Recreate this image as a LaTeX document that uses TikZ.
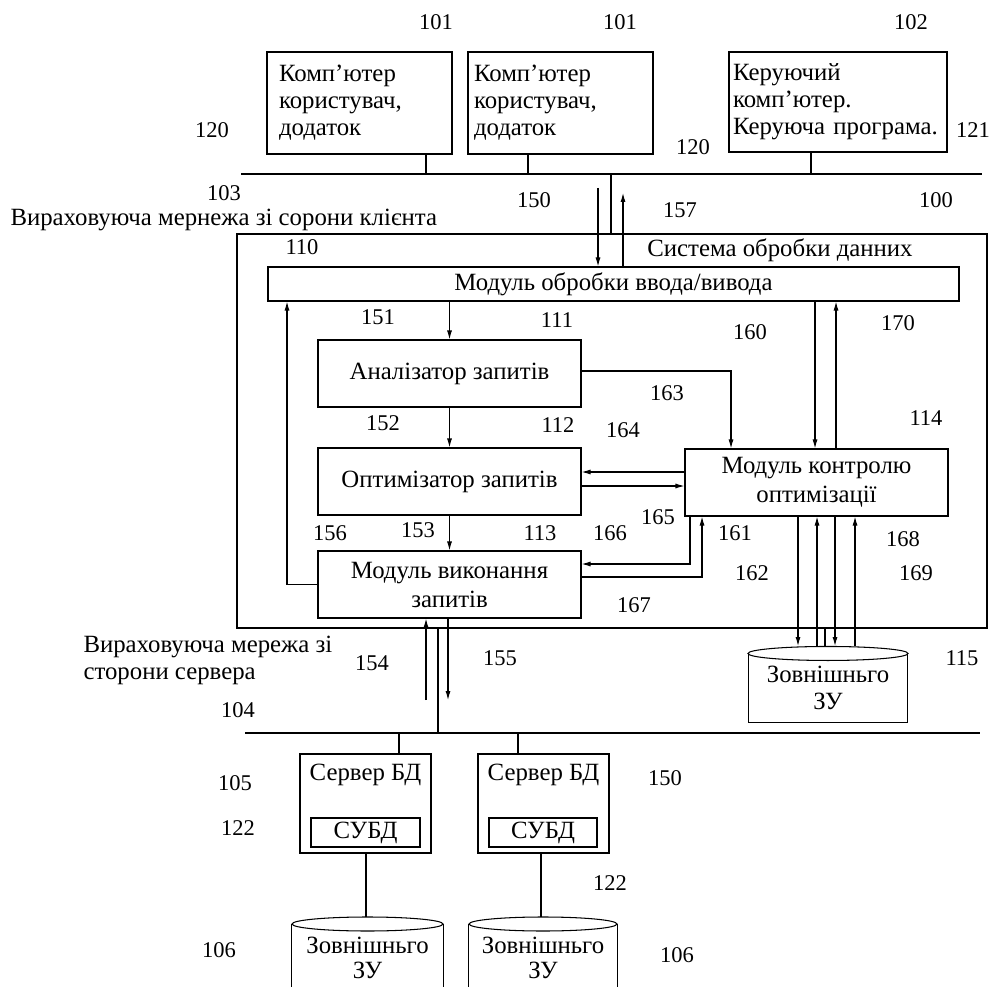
\documentclass[tikz,border=0pt]{standalone}
\usepackage{fontspec}
\setmainfont{Liberation Serif}
\usetikzlibrary{arrows.meta,calc}
\begin{document}
\begin{tikzpicture}[x=1pt,y=-1pt, line width=1.05pt,
  every node/.style={font=\fontsize{24.8}{27}\selectfont},
  box/.style={draw, rectangle, inner sep=0pt},
  lbl/.style={inner sep=0pt},
  num/.style={inner sep=0pt, font=\fontsize{22.5}{26}\selectfont},
  arr/.style={-{Latex[length=9pt,width=5pt]}}]
\useasboundingbox (0,0) rectangle (994,987);
\clip (0,0) rectangle (994,987);

% ---------- top client computers ----------
\node[box, minimum height=102pt, text width=161pt, inner xsep=12pt, align=left] (u1) at (359.5,103) {Комп’ютер\\користувач,\\додаток};
\node[box, minimum height=102pt, text width=173pt, inner xsep=6pt, align=left] (u2) at (560.5,103) {Комп’ютер\\користувач,\\додаток};
\node[box, minimum height=100pt, text width=210pt, inner xsep=4pt, align=left] (u3) at (838,102) {Керуючий\\комп’ютер.\\Керуюча програма.};

\coordinate (cbusL) at (241,174);
\coordinate (cbusR) at (982,174);
\draw (cbusL) -- (cbusR);
\coordinate (t1) at (426,174);
\coordinate (t2) at (528,174);
\coordinate (t3) at (811,174);
\draw (u1.south -| t1) -- (t1);
\draw (u2.south -| t2) -- (t2);
\draw (u3.south -| t3) -- (t3);

% labels top
\node[num] (n101a) at (436,22) {101};
\node[num] (n101b) at (620,22) {101};
\node[num] (n102) at (911,22) {102};
\node[num] (n120a) at (212,130) {120};
\node[num] (n120b) at (693,147) {120};
\node[num] (n121) at (973,130) {121};
\node[num] (n103) at (224,193) {103};
\node[lbl, anchor=west] (ctext) at (10,220) {Вираховуюча мернежа зі сорони клієнта};
\node[num] (n150a) at (534,200) {150};
\node[num] (n157) at (680,210) {157};
\node[num] (n100) at (936,200) {100};

% ---------- data processing system ----------
\node[box, minimum width=750pt, minimum height=394pt] (outer) at (612,431) {};
\node[lbl] (sys) at (780,250) {Система обробки данних};
\node[num] (n110) at (302,247) {110};

\node[box, minimum width=691pt, minimum height=34pt] (io) at (613.5,284) {Модуль обробки ввода/вивода};

\coordinate (tb) at (611,174);
\draw (tb) -- (tb |- outer.north);
\coordinate (a150) at (598,188);
\draw[arr] (a150) -- (a150 |- io.north);
\coordinate (a157) at (623,193);
\draw[arr] (a157 |- io.north) -- (a157);

\node[box, minimum width=263pt, minimum height=67pt] (an) at (449.5,373.5) {Аналізатор запитів};
\node[box, minimum width=263pt, minimum height=67pt] (op) at (449.5,481.5) {Оптимізатор запитів};
\node[box, minimum width=263pt, minimum height=67pt, align=center] (ex) at (449.5,584.5) {Модуль виконання\\[2pt]запитів};
\node[box, minimum width=263pt, minimum height=67pt, align=center] (kc) at (816.5,482.5) {Модуль контролю\\[2pt]оптимізації};

\draw[arr] (io.south -| an.north) -- (an.north);
\draw[arr] (an.south) -- (op.north);
\draw[arr] (op.south) -- (ex.north);

\coordinate (fb) at (287,584.5);
\draw[arr] (ex.west |- fb) -- (fb) -- (fb |- io.south);

\coordinate (c163) at (731,371);
\draw[arr] (an.east |- c163) -- (c163) -- (c163 |- kc.north);
\coordinate (c160) at (815,0);
\draw[arr] (io.south -| c160) -- (kc.north -| c160);
\coordinate (c170) at (836,0);
\draw[arr] (kc.north -| c170) -- (io.south -| c170);

\coordinate (c164) at (0,472);
\draw[arr] (kc.west |- c164) -- (op.east |- c164);
\coordinate (c165) at (0,486);
\draw[arr] (op.east |- c165) -- (kc.west |- c165);

\coordinate (c166) at (690,564);
\draw[arr] (kc.south -| c166) -- (c166) -- (ex.east |- c166);
\coordinate (c167) at (702,577);
\draw[arr] (ex.east |- c167) -- (c167) -- (c167 |- kc.south);

% labels inside
\node[num] (n151) at (378,317) {151};
\node[num] (n111) at (557,320) {111};
\node[num] (n160) at (750,332) {160};
\node[num] (n170) at (898,323) {170};
\node[num] (n163) at (667,393) {163};
\node[num] (n152) at (383,423) {152};
\node[num] (n112) at (558,425) {112};
\node[num] (n164) at (623,430) {164};
\node[num] (n114) at (926,418) {114};
\node[num] (n165) at (658,517) {165};
\node[num] (n166) at (610,533) {166};
\node[num] (n156) at (330,533) {156};
\node[num] (n153) at (418,530) {153};
\node[num] (n113) at (540,533) {113};
\node[num] (n161) at (735,533) {161};
\node[num] (n168) at (903,539) {168};
\node[num] (n162) at (752,573) {162};
\node[num] (n169) at (916,573) {169};
\node[num] (n167) at (634,605) {167};

% ---------- external storage 115 ----------
\node[lbl, minimum width=158pt, minimum height=68pt, align=center] (zu) at (828,688) {Зовнішньго\\ЗУ};
\draw (zu.north west) -- (zu.south west) -- (zu.south east) -- (zu.north east);
\draw[fill=white] (zu.north) ellipse [x radius=80pt, y radius=7pt];
\coordinate (zutop) at (828,646);
\coordinate (k1) at (798,0);
\coordinate (k2) at (817,0);
\coordinate (k3) at (835,0);
\coordinate (k4) at (855,0);
\coordinate (k5) at (825,0);
\draw[arr] (kc.south -| k1) -- (zutop -| k1);
\draw[arr] (zutop -| k2) -- (kc.south -| k2);
\draw[arr] (kc.south -| k3) -- (zutop -| k3);
\draw[arr] (zutop -| k4) -- (kc.south -| k4);
\draw (outer.south -| k5) -- (zutop -| k5);
\node[num] (n115) at (962,658) {115};

% ---------- server side ----------
\coordinate (sbusL) at (245,733);
\coordinate (sbusR) at (980,733);
\draw (sbusL) -- (sbusR);
\coordinate (b154) at (426,700);
\coordinate (b155) at (448,700);
\coordinate (bl) at (438,733);
\draw[arr] (b154) -- (b154 |- ex.south);
\draw[arr] (b155 |- ex.south) -- (b155);
\draw (bl |- outer.south) -- (bl);

\node[lbl, anchor=west, align=left] (stext) at (83,660) {Вираховуюча мережа зі\\сторони сервера};
\node[num] (n104) at (238,710) {104};
\node[num] (n154) at (372,663) {154};
\node[num] (n155) at (500,658) {155};

\node[box, minimum width=131pt, minimum height=99pt] (s1) at (365.5,803.5) {};
\node[lbl] (s1t) at (365.5,775) {Сервер БД};
\node[box, minimum width=109pt, minimum height=29pt] (d1) at (365.5,832.5) {СУБД};
\node[box, minimum width=131pt, minimum height=99pt] (s2) at (543.5,803.5) {};
\node[lbl] (s2t) at (543.5,775) {Сервер БД};
\node[box, minimum width=108pt, minimum height=29pt] (d2) at (543,832.5) {СУБД};

\coordinate (sc1) at (399,733);
\coordinate (sc2) at (518,733);
\draw (sc1) -- (sc1 |- s1.north);
\draw (sc2) -- (sc2 |- s2.north);

\node[lbl, minimum width=151pt, minimum height=82pt, align=center] (cy1) at (367.5,958) {Зовнішньго\\[-2pt]ЗУ};
\node[lbl, minimum width=148pt, minimum height=82pt, align=center] (cy2) at (543,958) {Зовнішньго\\[-2pt]ЗУ};
\coordinate (cy1c) at (367.5,924);
\coordinate (cy2c) at (543,924);
\draw (cy1c -| cy1.west) -- (cy1.south west) -- (cy1.south east) -- (cy1c -| cy1.east);
\draw (cy2c -| cy2.west) -- (cy2.south west) -- (cy2.south east) -- (cy2c -| cy2.east);
\draw[fill=white] (cy1c) ellipse [x radius=75.5pt, y radius=7pt];
\draw[fill=white] (cy2c) ellipse [x radius=74pt, y radius=7pt];
\coordinate (cy1top) at (366,917);
\coordinate (cy2top) at (541,917);
\draw (s1.south -| cy1top) -- (cy1top);
\draw (s2.south -| cy2top) -- (cy2top);

\node[num] (n105) at (235,783) {105};
\node[num] (n122a) at (238,828) {122};
\node[num] (n150b) at (665,778) {150};
\node[num] (n122b) at (610,883) {122};
\node[num] (n106a) at (219,950) {106};
\node[num] (n106b) at (677,955) {106};
\end{tikzpicture}
\end{document}
